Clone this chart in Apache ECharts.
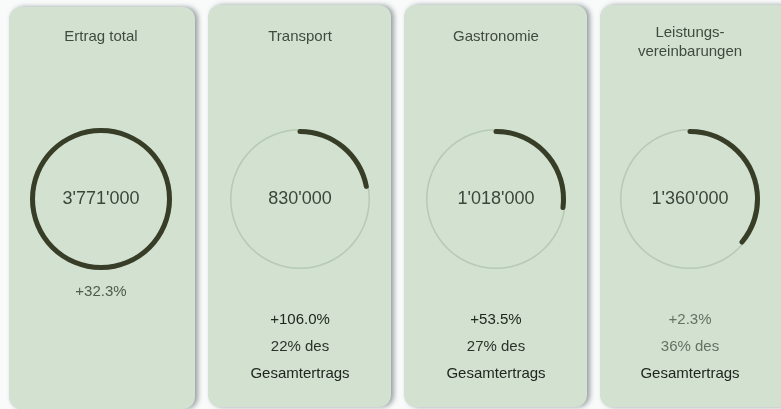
<!DOCTYPE html>
<html>
<head>
<meta charset="utf-8">
<script src="https://cdn.jsdelivr.net/npm/echarts@6/dist/echarts.min.js"></script>
<style>
    html, body { margin: 0; padding: 0; background: #f9fbfb; }
    #chart { width: 781px; height: 409px; }
</style>
</head>
<body>
<div id="chart"></div>
<script>
    // Ertrag nach Bereich
    var titles   = ['Ertrag total', 'Transport', 'Gastronomie', 'Leistungs-\nvereinbarungen'];
    var amounts  = [3771000, 830000, 1018000, 1360000];
    var shares   = [100, 22, 27, 36];          // Anteil am Gesamtertrag in %
    var changes  = ['+32.3%', '+106.0%', '+53.5%', '+2.3%'];
    var shareTxt = ['', '22% des', '27% des', '36% des'];

    // layout der Karten
    var cardX   = [9, 208, 404, 600];
    var cardW   = [186, 183, 183, 190];
    var centerX = [101, 300, 496, 690];
    var ringR   = [71, 70, 70, 70];
    var changeColor = ['#4d5c4d', '#20271f', '#20271f', '#647264'];
    var shareColor  = ['#4d5c4d', '#2b332a', '#2b332a', '#647264'];

    var font = '"Liberation Sans", Arial, Helvetica, sans-serif';

    function fmt(v) {
        return String(v).replace(/\B(?=(\d{3})+(?!\d))/g, "'");
    }

    var myChart = echarts.init(document.getElementById('chart'));

    var graphics = [];
    var series = [];

    for (var i = 0; i < titles.length; i++) {
        graphics.push({
            type: 'rect',
            z: 0,
            shape: { x: cardX[i], y: i == 0 ? 7 : 5, width: cardW[i], height: 402, r: 12 },
            style: {
                fill: '#d2e1d0',
                shadowColor: 'rgba(60,70,70,0.5)',
                shadowBlur: 5,
                shadowOffsetX: 3
            }
        });

        var twoLines = titles[i].indexOf('\n') >= 0;
        graphics.push({
            type: 'text',
            z: 2,
            x: centerX[i],
            y: twoLines ? 42 : 37,
            style: {
                text: titles[i],
                font: '15px ' + font,
                fill: '#3f4b3f',
                align: 'center',
                verticalAlign: 'middle',
                lineHeight: 19
            }
        });

        var lines = [];
        if (shareTxt[i]) {
            lines.push([changes[i], 320, changeColor[i]]);
            lines.push([shareTxt[i], 347, shareColor[i]]);
            lines.push(['Gesamtertrags', 374, '#20271f']);
        } else {
            lines.push([changes[i], 292, changeColor[i]]);
        }
        lines.forEach(function (l) {
            graphics.push({
                type: 'text',
                z: 2,
                x: centerX[i],
                y: l[1],
                style: {
                    text: l[0],
                    font: '15px ' + font,
                    fill: l[2],
                    align: 'center',
                    verticalAlign: 'middle'
                }
            });
        });

        series.push({
            type: 'gauge',
            center: [centerX[i], 199],
            radius: ringR[i],
            startAngle: 90,
            endAngle: -270,
            min: 0,
            max: 100,
            animation: false,
            pointer: { show: false },
            progress: {
                show: true,
                width: 5,
                roundCap: true,
                itemStyle: { color: '#383d27' }
            },
            axisLine: {
                lineStyle: { width: 1.5, color: [[1, '#b6cab4']] }
            },
            axisTick: { show: false },
            splitLine: { show: false },
            axisLabel: { show: false },
            title: { show: false },
            detail: {
                offsetCenter: [0, 0],
                fontFamily: font,
                fontSize: 18,
                fontWeight: 'normal',
                color: '#3b473b',
                formatter: (function (a) {
                    return function () { return fmt(a); };
                })(amounts[i])
            },
            data: [{ value: shares[i] }]
        });
    }

    var option = {
        backgroundColor: '#f9fbfb',
        graphic: graphics,
        series: series
    };
    myChart.setOption(option);
</script>
</body>
</html>
